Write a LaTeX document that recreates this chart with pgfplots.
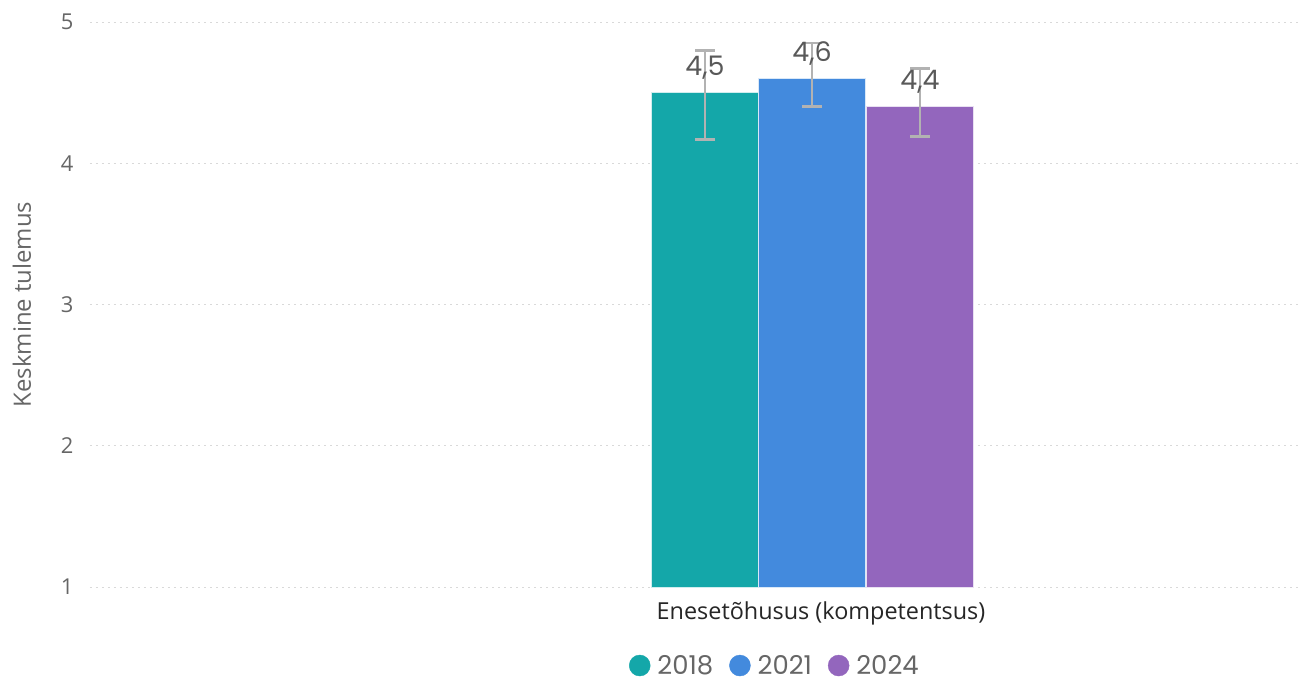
\documentclass[border=0pt]{standalone}
\usepackage{pgfplots}
\pgfplotsset{compat=1.18}
\usepackage{fontspec}
\setmainfont{Open Sans}
\newfontfamily\pop{Poppins}
\definecolor{c18}{HTML}{14A7A9}
\definecolor{c21}{HTML}{438ADD}
\definecolor{c24}{HTML}{9366BD}
\definecolor{tickc}{HTML}{666666}
\definecolor{gridc}{HTML}{D9D9D9}
\begin{document}
\begin{tikzpicture}
\path[use as bounding box] (-90bp,-97bp) rectangle (1217bp,587bp);
\begin{axis}[
  at={(0,0)}, anchor=south west, scale only axis,
  width=1210bp, height=565bp,
  xmin=0, xmax=1210, ymin=1, ymax=5,
  ytick={1,2,3,4,5},
  xtick={731}, xticklabels={Enesetõhusus (kompetentsus)},
  axis line style={draw=none},
  major tick length=0pt,
  ymajorgrids,
  major grid style={draw=gridc, line width=0.8bp, dash pattern=on 2bp off 4bp},
  /pgf/number format/assume math mode=true,
  yticklabel style={font=\fontsize{22}{26}\selectfont, text=tickc, xshift=-13bp},
  xticklabel style={font=\fontsize{23.5}{27}\selectfont, text=black!85, yshift=-11bp},
  ylabel={Keskmine tulemus},
  every axis y label/.style={at={(axis description cs:-0.0562,0.5)}, rotate=90, anchor=center, font=\fontsize{24}{28}\selectfont, text=tickc},
  ybar, bar width=107, bar shift=0pt,
  point meta=explicit symbolic,
  nodes near coords,
  every node near coord/.append style={font=\pop\fontsize{27}{31}\selectfont, text=black!65, anchor=south, inner sep=0pt, yshift=13bp},
  legend style={at={(axis description cs:0.566,-0.139)}, anchor=center, draw=none, fill=none,
    legend columns=3, font=\pop\fontsize{26}{28}\selectfont, text=tickc,
    nodes={inner ysep=0.5bp},
    /tikz/every even column/.style={column sep=14bp},
    /tikz/every odd column/.style={column sep=5bp},
    legend cell align=left, inner sep=0bp},
  clip=false,
  error bars/y dir=both, error bars/y explicit,
  error bars/error bar style={line width=2.6bp, draw=gray!60},
  error bars/error mark options={rotate=90, mark size=10bp, line width=2.6bp, draw=gray!60},
]
\addlegendimage{legend image code/.code={\fill[c18] (10bp,0bp) circle (10.5bp);}}
\addlegendimage{legend image code/.code={\fill[c21] (10bp,0bp) circle (10.5bp);}}
\addlegendimage{legend image code/.code={\fill[c24] (10bp,0bp) circle (10.5bp);}}
\legend{2018,2021,2024}
\addplot[forget plot, fill=c18, draw=white!80!c18, line width=0.6bp] table[x=x, y=y, y error plus=ep, y error minus=em, meta=lab] {
x y ep em lab
615 4.5 0.30 0.33 4,5
};
\addplot[forget plot, fill=c21, draw=white!80!c21, line width=0.6bp] table[x=x, y=y, y error plus=ep, y error minus=em, meta=lab] {
x y ep em lab
722 4.6 0.25 0.20 4,6
};
\addplot[forget plot, fill=c24, draw=white!80!c24, line width=0.6bp] table[x=x, y=y, y error plus=ep, y error minus=em, meta=lab] {
x y ep em lab
830 4.4 0.27 0.21 4,4
};
\end{axis}
\end{tikzpicture}
\end{document}
